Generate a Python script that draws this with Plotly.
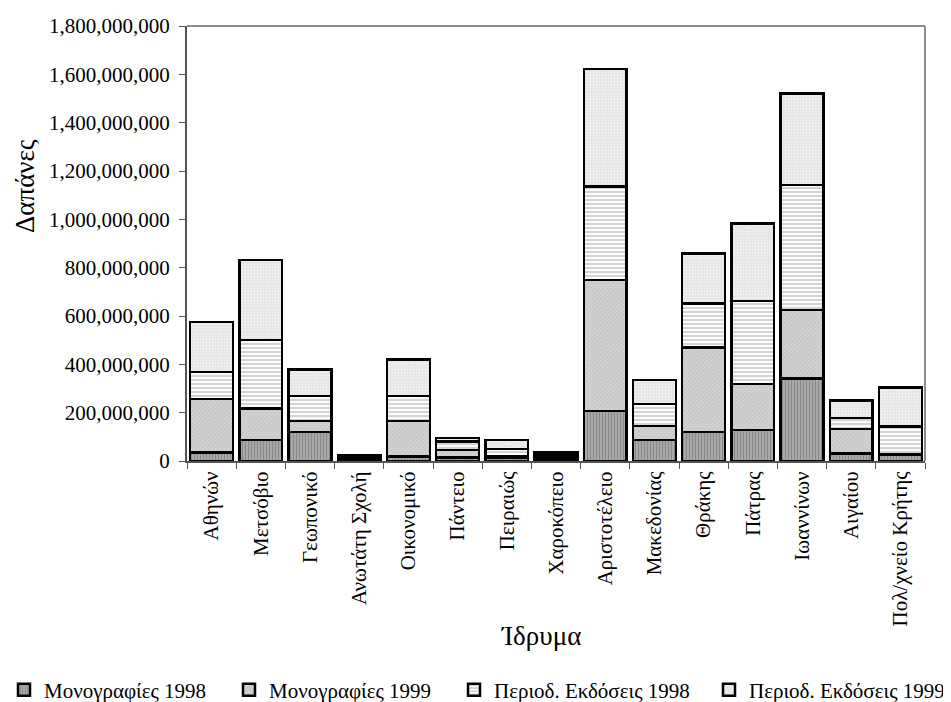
import plotly.graph_objects as go

categories = ["Αθηνών", "Μετσόβιο", "Γεωπονικό", "Ανωτάτη Σχολή", "Οικονομικό",
              "Πάντειο", "Πειραιώς", "Χαροκόπειο", "Αριστοτέλειο", "Μακεδονίας",
              "Θράκης", "Πάτρας", "Ιωαννίνων", "Αιγαίου", "Πολ/χνείο Κρήτης"]

mono_1998 = [36e6, 87e6, 121e6, 6e6, 18e6, 15e6, 14e6, 9e6, 207e6, 87e6, 119e6, 128e6, 342e6, 32e6, 25e6]
mono_1999 = [220e6, 131e6, 44e6, 6e6, 147e6, 30e6, 6e6, 9e6, 542e6, 58e6, 351e6, 191e6, 283e6, 100e6, 3e6]
period_1998 = [113e6, 283e6, 104e6, 6e6, 105e6, 35e6, 30e6, 9e6, 386e6, 90e6, 182e6, 343e6, 517e6, 45e6, 114e6]
period_1999 = [206e6, 331e6, 110e6, 7e6, 151e6, 16e6, 37e6, 9e6, 487e6, 100e6, 207e6, 321e6, 379e6, 73e6, 163e6]

series_names = ["Μονογραφίες 1998", "Μονογραφίες 1999", "Περιοδ. Εκδόσεις 1998", "Περιοδ. Εκδόσεις 1999"]
series_values = [mono_1998, mono_1999, period_1998, period_1999]

y_ticks = list(range(0, 1800000001, 200000000))

patterns = [
    dict(shape="|", bgcolor="#b4b4b4", fgcolor="#5a5a5a", size=3, solidity=0.5),
    dict(shape="/", bgcolor="#d4d4d4", fgcolor="#b0b0b0", size=3, solidity=0.4),
    dict(shape="-", bgcolor="#ffffff", fgcolor="#a8a8a8", size=4, solidity=0.55),
    dict(shape=".", bgcolor="#e4e4e4", fgcolor="#ffffff", size=3, solidity=0.35),
]

FONT = "Liberation Serif, Times New Roman, serif"

# page offset of the figure inside the browser (body margin)
OFF = 8
# plot area geometry in screen pixels
SW, SH = 951, 702
PL, PR, PT, PB = 187, 925, 26, 461
W, H = SW - OFF, SH - OFF
L, T = PL - OFF, PT - OFF
R, B = W - (PR - OFF), H - (PB - OFF)
PW, PH = PR - PL, PB - PT

def px_x(p):
    return (p - PL) / PW

def px_y(p):
    return (PB - p) / PH

legend_left_px = [4, 229, 454, 709]
legend_keys = ["legend", "legend2", "legend3", "legend4"]

fig = go.Figure()
for name, vals, pat, lk in zip(series_names, series_values, patterns, legend_keys):
    fig.add_trace(go.Bar(
        x=categories, y=vals, name=name, legend=lk,
        marker=dict(color=pat["bgcolor"], pattern=pat,
                    line=dict(color="#000000", width=2.5)),
    ))

layout_legends = {}
for lk, lx in zip(legend_keys, legend_left_px):
    layout_legends[lk] = dict(
        x=px_x(lx), xanchor="left", y=px_y(690), yanchor="middle",
        orientation="h", font=dict(family=FONT, size=21, color="#000000"),
        bgcolor="rgba(0,0,0,0)", itemwidth=30,
    )

fig.update_layout(
    barmode="stack",
    bargap=0.13,
    width=W, height=H,
    margin=dict(l=L, r=R, t=T, b=B, autoexpand=False),
    paper_bgcolor="white", plot_bgcolor="white",
    font=dict(family=FONT, size=21, color="#000000"),
    showlegend=True,
    **layout_legends,
)

fig.update_xaxes(
    tickangle=-90, tickson="boundaries", ticks="outside", ticklen=6,
    tickcolor="#555555", showline=True, linecolor="#555555", linewidth=2,
    tickfont=dict(family=FONT, size=21), automargin=False,
)
fig.update_yaxes(
    range=[0, 1800000000], tickvals=y_ticks, tickformat=",d",
    ticks="outside", ticklen=6, tickcolor="#555555", ticklabelstandoff=5,
    showline=True, linecolor="#555555", linewidth=2, showgrid=False, zeroline=False,
    tickfont=dict(family=FONT, size=21), automargin=False,
)

# axis titles
fig.add_annotation(text="Ίδρυμα", xref="paper", yref="paper",
                   x=px_x(541), y=px_y(636), xanchor="center", yanchor="middle",
                   showarrow=False, font=dict(family=FONT, size=27))
fig.add_annotation(text="Δαπάνες", xref="paper", yref="paper",
                   x=px_x(25), y=px_y(186), xanchor="center", yanchor="middle",
                   showarrow=False, textangle=-90,
                   font=dict(family=FONT, size=27))

# plot-area frame (top and right edges in grey)
fig.add_shape(type="line", xref="paper", yref="paper", x0=0, x1=1, y0=1, y1=1,
              line=dict(color="#8c8c8c", width=2))
fig.add_shape(type="line", xref="paper", yref="paper", x0=1, x1=1, y0=0, y1=1,
              line=dict(color="#8c8c8c", width=2))

fig.write_html("out.html")
